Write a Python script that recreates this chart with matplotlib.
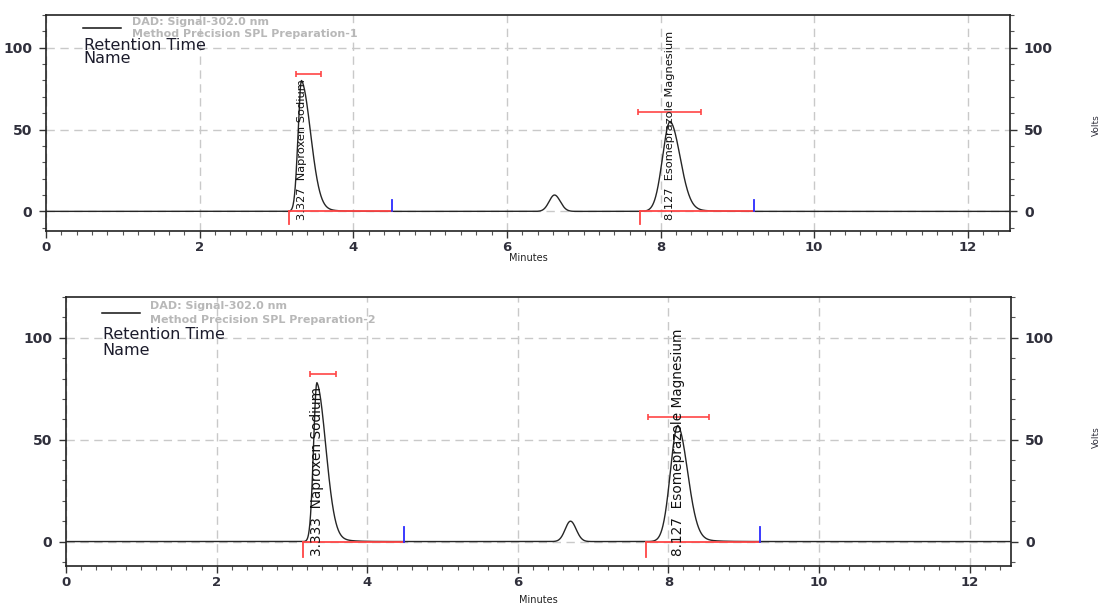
import numpy as np
import matplotlib.pyplot as plt
from matplotlib.ticker import MultipleLocator

plt.rcParams['font.family'] = ['DejaVu Sans']

# two injections of the same sample, one chromatogram each
run_titles = ["Method Precision SPL Preparation-1", "Method Precision SPL Preparation-2"]
detector = "DAD: Signal-302.0 nm"

# named peaks: retention time (min) and apex height (volts)
naproxen_rt = [3.327, 3.333]
naproxen_height = [80, 78]
esomeprazole_rt = [8.127, 8.127]
esomeprazole_height = [55, 57]
# small unnamed peak between them
impurity_rt = [6.62, 6.70]
impurity_height = [10, 10]

peak_names = ["Naproxen Sodium", "Esomeprazole Magnesium"]

# integration start / end marks for the two named peaks
peak_start = [[3.17, 7.73], [3.15, 7.70]]
peak_end = [[4.50, 9.22], [4.49, 9.22]]

# peak width bars: left, right and level
width_lo = [[3.26, 7.71], [3.24, 7.73]]
width_hi = [[3.58, 8.53], [3.58, 8.54]]
width_level = [[84, 61], [82, 61]]

# axes boxes in figure fractions (left, bottom, width, height)
boxes = [(0.0417, 0.6188, 0.874, 0.3564), (0.0598, 0.066, 0.8568, 0.4439)]
label_size = [8.2, 9.8]
label_y = [-5, -7]
volts_y = [0.794, 0.279]
minutes_y = [0.566, 0.002]

RED = '#ff4545'
BLUE = '#2b2bff'
GRID = '#c9c9c9'
TXT = '#30303c'


def peak(t, rt, h, s_left, s_right, tail=0.0, tau=0.15):
    """Asymmetric gaussian with a small exponential tail after the apex."""
    dt = t - rt
    left = h * np.exp(-0.5 * (dt / s_left) ** 2)
    right = h * ((1 - tail) * np.exp(-0.5 * (dt / s_right) ** 2)
                 + tail * np.exp(-np.clip(dt, 0, None) / tau))
    return np.where(dt < 0, left, right)


t = np.linspace(0, 12.6, 4000)

fig = plt.figure(figsize=(11.03, 6.06), dpi=100)

for i in range(2):
    ax = fig.add_axes(boxes[i])
    trace = (peak(t, naproxen_rt[i], naproxen_height[i], 0.045, 0.12, tail=0.12)
             + peak(t, impurity_rt[i], impurity_height[i], 0.07, 0.075)
             + peak(t, esomeprazole_rt[i], esomeprazole_height[i], 0.10, 0.13, tail=0.10, tau=0.18))

    ax.set_xlim(0, 12.55)
    ax.set_ylim(-12, 120)

    ax.grid(True, which='major', color=GRID, linestyle=(0, (6, 4)), linewidth=1.0)
    ax.set_axisbelow(True)

    ax.plot(t, trace, color='#262626', linewidth=1.0, zorder=3)

    # integration baselines and their start / end markers
    for k in range(2):
        ax.plot([peak_start[i][k], peak_end[i][k]], [0, 0], color=RED, linewidth=1.3, zorder=4)
        ax.plot([peak_start[i][k]] * 2, [0, -7.5], color=RED, linewidth=1.3, zorder=4)
        ax.plot([peak_end[i][k]] * 2, [0, 7], color=BLUE, linewidth=1.3, zorder=4)
        lo, hi = width_lo[i][k], width_hi[i][k]
        ax.errorbar((lo + hi) / 2, width_level[i][k], xerr=(hi - lo) / 2, fmt='none',
                    ecolor=RED, elinewidth=1.2, capsize=2.4, capthick=1.2, zorder=4)

    # rotated peak annotations
    for rt, name in zip([naproxen_rt[i], esomeprazole_rt[i]], peak_names):
        ax.text(rt, label_y[i], f"{rt:.3f}  {name}", rotation=90, ha='center', va='bottom',
                fontsize=label_size[i], color='#111111', zorder=5)

    # legend-like header in the corner
    ax.plot([0.038, 0.078], [0.940, 0.940], transform=ax.transAxes, color='#111111', linewidth=1.1)
    ax.text(0.089, 0.968, detector, transform=ax.transAxes, fontsize=8, fontweight='bold',
            color='#b8b8b8', va='center')
    ax.text(0.089, 0.914, run_titles[i], transform=ax.transAxes, fontsize=8, fontweight='bold',
            color='#b8b8b8', va='center')
    ax.text(0.039, 0.860, "Retention Time", transform=ax.transAxes, fontsize=11.5,
            color='#1c1c2c', va='center')
    ax.text(0.039, 0.800, "Name", transform=ax.transAxes, fontsize=11.5,
            color='#1c1c2c', va='center')

    ax.xaxis.set_major_locator(MultipleLocator(2))
    ax.xaxis.set_minor_locator(MultipleLocator(0.2))
    ax.yaxis.set_major_locator(MultipleLocator(50))
    ax.yaxis.set_minor_locator(MultipleLocator(10))
    ax.tick_params(axis='both', which='major', length=5, width=1.0, color='#333333',
                   labelcolor=TXT)
    ax.tick_params(axis='both', which='minor', length=3, width=0.8, color='#555555')
    ax.tick_params(axis='x', which='major', labelsize=9.5, pad=2)
    ax.tick_params(axis='y', which='both', left=True, right=True, labelleft=True, labelright=True)
    ax.tick_params(axis='y', which='major', labelsize=10, pad=5)
    for lab in ax.get_xticklabels() + ax.get_yticklabels():
        lab.set_fontweight('bold')
    for lab in ax.yaxis.get_ticklabels(which='major'):
        lab.set_fontweight('bold')
    for side in ax.spines.values():
        side.set_color('#222222')
        side.set_linewidth(1.2)

    fig.text(0.994, volts_y[i], "Volts", rotation=90, fontsize=6.5, color=TXT,
             ha='center', va='center')
    fig.text(boxes[i][0] + boxes[i][2] / 2, minutes_y[i], "Minutes", fontsize=7,
             color='#222222', ha='center', va='bottom')

fig.savefig("out.png", dpi=100)
